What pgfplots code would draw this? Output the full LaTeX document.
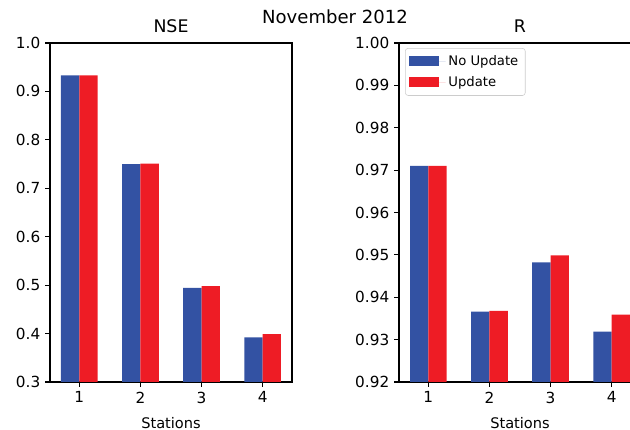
\documentclass[border=0pt]{standalone}
\usepackage{pgfplots}
\pgfplotsset{compat=1.18}
\usepackage{fontspec}
\setmainfont{DejaVu Sans}
\definecolor{cblue}{RGB}{51,82,163}
\definecolor{cred}{RGB}{238,28,37}
\pgfplotsset{
  mystyle/.style={
    scale only axis,
    width=174.24pt, height=244.08pt,
    xmin=0.52, xmax=4.48,
    xtick={1,2,3,4},
    ybar, bar width=0.3,
    tick align=outside, tick pos=left,
    major tick length=3.5pt,
    every tick/.style={black, line width=0.8pt},
    axis line style={line width=0.8pt},
    /pgf/number format/assume math mode=true,
    tick label style={font=\fontsize{11}{13}\selectfont},
    title style={font=\fontsize{12.5}{14}\selectfont, at={(0.5,1)}, anchor=base, yshift=1.2pt, inner sep=0pt},
    xlabel style={font=\fontsize{10.5}{12}\selectfont, at={(0.5,0)}, anchor=base, yshift=-33.5pt, inner sep=0pt},
    xlabel={Stations},
    legend image code/.code={\fill[##1, sharp corners] (0pt,-3.6pt) rectangle (21.6pt,3.6pt); \path (0pt,0pt) -- (26pt,0pt);},
  }
}
\begin{document}
\begin{tikzpicture}
\begin{axis}[mystyle, at={(36pt,34.56pt)}, anchor=south west,
  ymin=0.3, ymax=1.0, ytick={0.3,0.4,0.5,0.6,0.7,0.8,0.9,1.0},
  yticklabel style={/pgf/number format/.cd, fixed, fixed zerofill, precision=1},
  title={NSE}]
\addplot[fill=cblue, draw=none, bar shift=-0.15] coordinates {(1,0.933) (2,0.750) (3,0.4945) (4,0.392)};
\addplot[fill=cred, draw=none, bar shift=0.15] coordinates {(1,0.933) (2,0.751) (3,0.498) (4,0.399)};
\end{axis}
\begin{axis}[mystyle, at={(287.28pt,34.56pt)}, anchor=south west,
  ymin=0.92, ymax=1.0, ytick={0.92,0.93,0.94,0.95,0.96,0.97,0.98,0.99,1.0},
  yticklabel style={/pgf/number format/.cd, fixed, fixed zerofill, precision=2},
  title={R},
  legend style={at={(0.025,0.985)}, anchor=north west, draw=black!20, rounded corners=2pt,
    font=\fontsize{9.5}{11}\selectfont, row sep=2.5pt, inner sep=3pt},
  legend cell align=left]
\addplot[fill=cblue, draw=none, bar shift=-0.15] coordinates {(1,0.971) (2,0.9366) (3,0.9482) (4,0.9319)};
\addplot[fill=cred, draw=none, bar shift=0.15] coordinates {(1,0.971) (2,0.9368) (3,0.9499) (4,0.9359)};
\legend{No Update, Update}
\end{axis}
\node[font=\fontsize{13}{15}\selectfont, anchor=base] at (241.2pt,293pt) {November 2012};
\pgfresetboundingbox
\useasboundingbox (0,0) rectangle (453.6pt,309.6pt);
\end{tikzpicture}
\end{document}
